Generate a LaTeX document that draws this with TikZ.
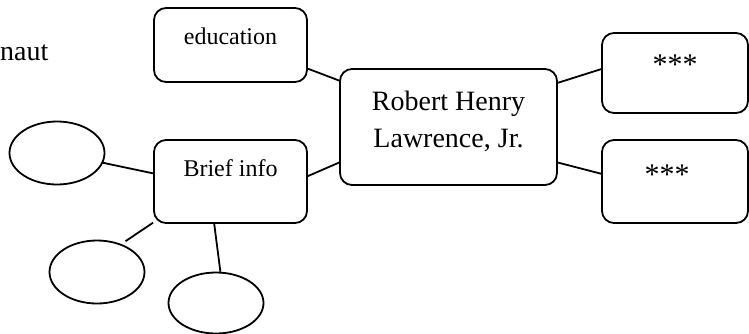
\documentclass[tikz,border=0pt]{standalone}
\usepackage{fontspec}
\setmainfont{Liberation Serif}
\usetikzlibrary{shapes.geometric}
\begin{document}
\begin{tikzpicture}[x=1pt,y=-1pt,
  box/.style={draw, rounded corners=12pt, inner sep=0pt, line width=1.8pt},
  oval/.style={draw, ellipse, inner sep=0pt, line width=1.8pt, minimum width=95pt, minimum height=63pt},
  link/.style={line width=1.8pt},
  small/.style={font=\fontsize{24}{28}\selectfont},
  stars/.style={font=\fontsize{30}{34}\selectfont},
  big/.style={font=\fontsize{28}{37}\selectfont}]
\useasboundingbox (0,0) rectangle (749,333);
\node[big, anchor=base west, inner sep=0pt] (title) at (0,60) {naut};
\node[box, minimum width=153pt, minimum height=74pt,
  label={[small, anchor=center, yshift=-29pt]north:education}] (edu) at (230.5,45) {};
\node[box, minimum width=153pt, minimum height=83pt,
  label={[small, anchor=center, yshift=-29pt]north:Brief info}] (brief) at (230.5,181.5) {};
\node[box, minimum width=217pt, minimum height=116pt,
  label={[big, anchor=center, align=center, yshift=6pt]center:Robert Henry\\Lawrence, Jr.}] (ctr) at (448.5,127) {};
\node[box, minimum width=146pt, minimum height=80pt,
  label={[stars, anchor=center, yshift=-33pt]north:***}] (tr) at (675,73) {};
\node[box, minimum width=146pt, minimum height=83pt,
  label={[stars, anchor=center, yshift=-36pt, xshift=-8pt]north:***}] (br) at (675,181.5) {};
\node[oval] (e1) at (57,153) {};
\node[oval] (e2) at (97,272) {};
\node[oval, minimum height=61pt] (e3) at (216,303) {};
\draw[link] (edu.-17) -- (ctr.157.5);
\draw[link] (brief.4) -- (ctr.198.4);
\draw[link] (ctr.22.5) -- (tr.177);
\draw[link] (ctr.-18.4) -- (br.174);
\draw[link] (brief.174.4) -- (e1.-12);
\draw[link, shorten >=5pt] (brief.208.8) -- (e2.49);
\draw[link] (brief.249.5) -- (e3.82);
\end{tikzpicture}
\end{document}
